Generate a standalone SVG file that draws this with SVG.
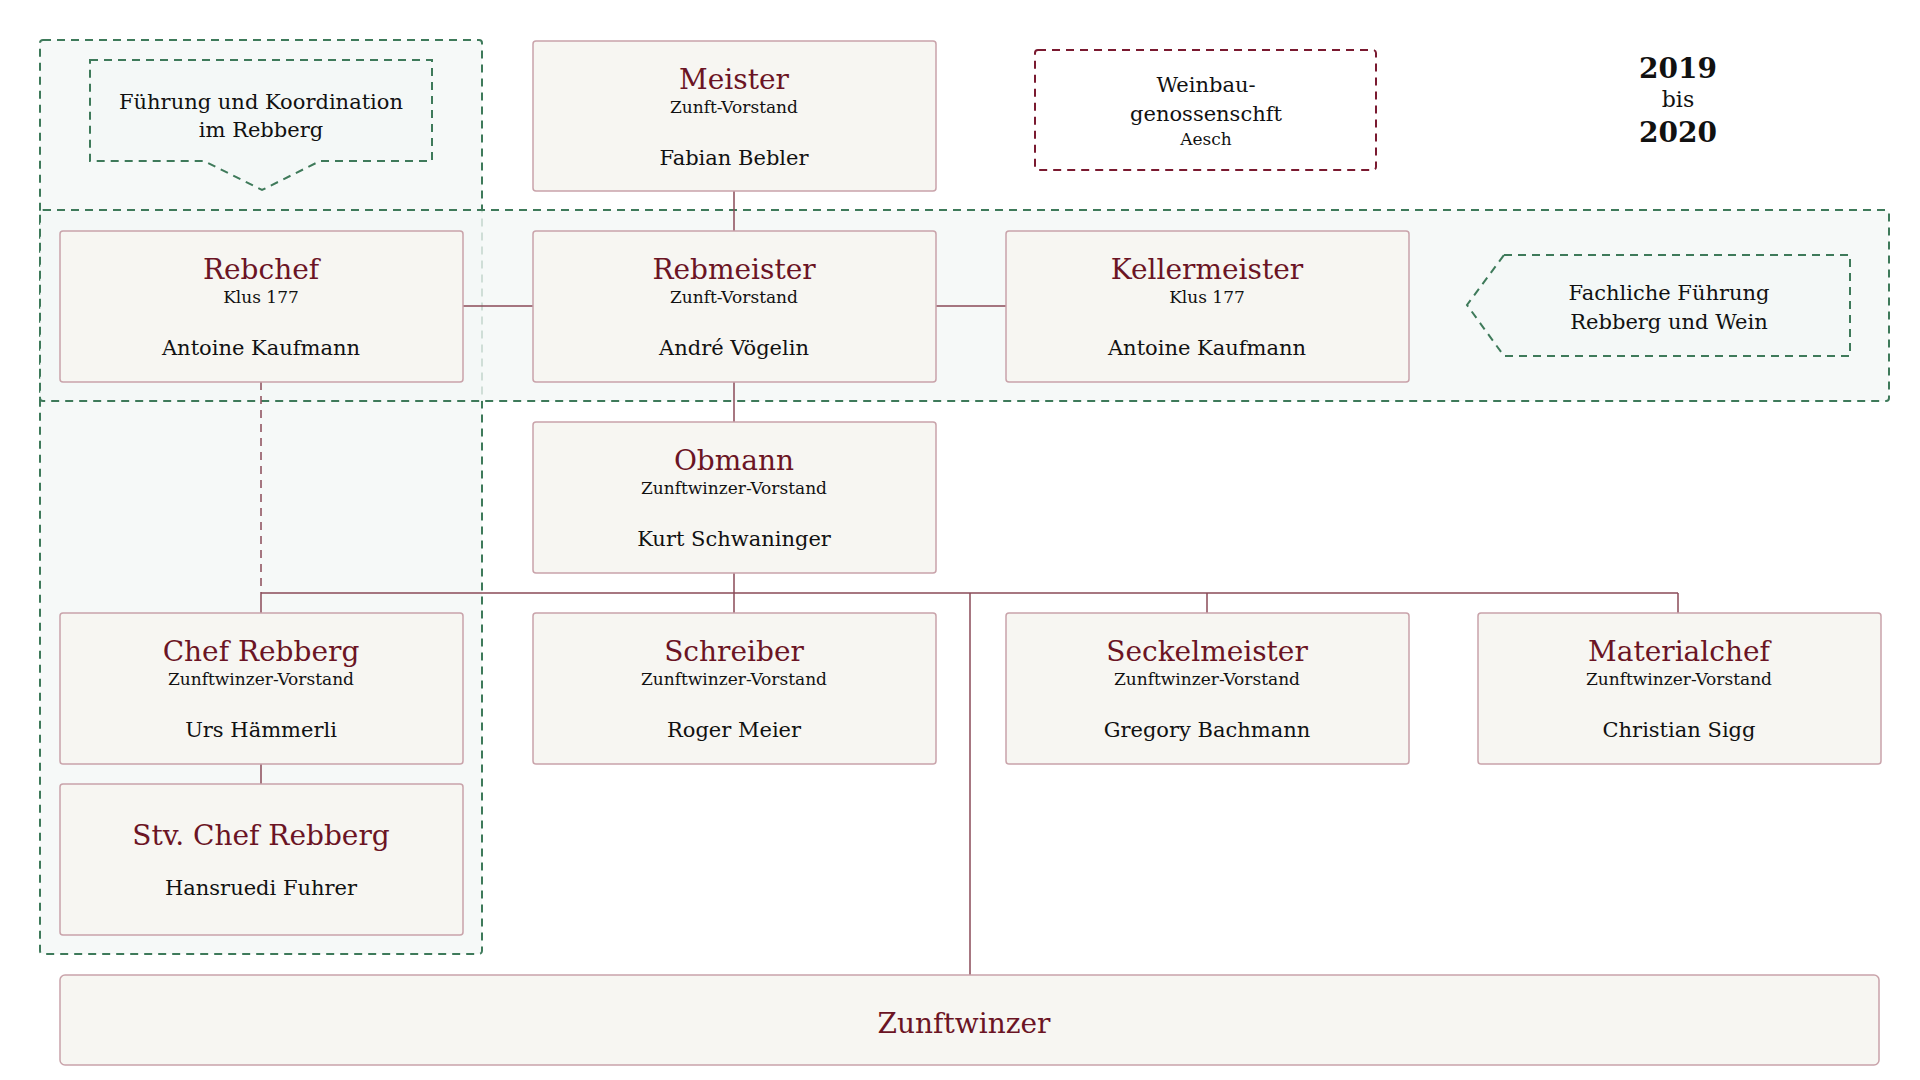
<svg xmlns="http://www.w3.org/2000/svg" width="1920" height="1080" viewBox="0 0 1920 1080">
<style>
text{font-family:"DejaVu Serif","Liberation Serif",serif;text-anchor:middle;fill:#111}
.n{fill:#f7f6f2;stroke:#c9a3aa;stroke-width:1.5}
.t{font-size:28px;fill:#6b1424}
.s{font-size:17px}
.m{font-size:21px}
.g{fill:#f4f7f6;fill-opacity:0.8;stroke:#3e7a5a;stroke-width:2;stroke-dasharray:8 6}
.c{stroke:#8a4b58;stroke-width:1.5;fill:none}
</style>
<rect width="1920" height="1080" fill="#fff"/>
<g id="zones">
<rect class="g" x="40" y="40" width="442" height="914" rx="3"/>
<rect class="g" x="40" y="210" width="1849" height="191" rx="3"/>
<path class="g" d="M90,60 H432 V161 H320 L262,190 L204,161 H90 Z"/>
<path class="g" d="M1504,255 H1850 V356 H1504 L1467,305 Z"/>
</g>
<g id="connectors">
<path class="c" d="M734,191 V231 M463,306 H533 M935,306 H1006 M734,382 V422 M734,573 V593 M261,593 H1678 M261,593 V613 M734,593 V613 M1207,593 V613 M1678,593 V613 M970,593 V975 M261,764 V784"/>
<path class="c" d="M261,382 V593" stroke-dasharray="8 6"/>
</g>
<g id="meister"><rect class="n" x="533" y="41" width="403" height="150" rx="3"/><text class="t" x="734" y="89">Meister</text><text class="s" x="734" y="113">Zunft-Vorstand</text><text class="m" x="734" y="165">Fabian Bebler</text></g>
<g id="weinbau"><rect x="1035" y="50" width="341" height="120" rx="3" fill="#fff" stroke="#7a1a30" stroke-width="2" stroke-dasharray="8 6"/><text class="m" x="1206" y="92">Weinbau-</text><text class="m" x="1206" y="121">genossenschft</text><text class="s" x="1206" y="145">Aesch</text></g>
<g id="years"><text x="1678" y="78" font-size="28" font-weight="bold">2019</text><text x="1678" y="107" font-size="22">bis</text><text x="1678" y="142" font-size="28" font-weight="bold">2020</text></g>
<g id="labels"><text class="m" x="261" y="109">Führung und Koordination</text><text class="m" x="261" y="137">im Rebberg</text><text class="m" x="1669" y="300">Fachliche Führung</text><text class="m" x="1669" y="329">Rebberg und Wein</text></g>
<g id="rebchef"><rect class="n" x="60" y="231" width="403" height="151" rx="3"/><text class="t" x="261" y="279">Rebchef</text><text class="s" x="261" y="303">Klus 177</text><text class="m" x="261" y="355">Antoine Kaufmann</text></g>
<g id="rebmeister"><rect class="n" x="533" y="231" width="403" height="151" rx="3"/><text class="t" x="734" y="279">Rebmeister</text><text class="s" x="734" y="303">Zunft-Vorstand</text><text class="m" x="734" y="355">André Vögelin</text></g>
<g id="kellermeister"><rect class="n" x="1006" y="231" width="403" height="151" rx="3"/><text class="t" x="1207" y="279">Kellermeister</text><text class="s" x="1207" y="303">Klus 177</text><text class="m" x="1207" y="355">Antoine Kaufmann</text></g>
<g id="obmann"><rect class="n" x="533" y="422" width="403" height="151" rx="3"/><text class="t" x="734" y="470">Obmann</text><text class="s" x="734" y="494">Zunftwinzer-Vorstand</text><text class="m" x="734" y="546">Kurt Schwaninger</text></g>
<g id="chefrebberg"><rect class="n" x="60" y="613" width="403" height="151" rx="3"/><text class="t" x="261" y="661">Chef Rebberg</text><text class="s" x="261" y="685">Zunftwinzer-Vorstand</text><text class="m" x="261" y="737">Urs Hämmerli</text></g>
<g id="schreiber"><rect class="n" x="533" y="613" width="403" height="151" rx="3"/><text class="t" x="734" y="661">Schreiber</text><text class="s" x="734" y="685">Zunftwinzer-Vorstand</text><text class="m" x="734" y="737">Roger Meier</text></g>
<g id="seckelmeister"><rect class="n" x="1006" y="613" width="403" height="151" rx="3"/><text class="t" x="1207" y="661">Seckelmeister</text><text class="s" x="1207" y="685">Zunftwinzer-Vorstand</text><text class="m" x="1207" y="737">Gregory Bachmann</text></g>
<g id="materialchef"><rect class="n" x="1478" y="613" width="403" height="151" rx="3"/><text class="t" x="1679" y="661">Materialchef</text><text class="s" x="1679" y="685">Zunftwinzer-Vorstand</text><text class="m" x="1679" y="737">Christian Sigg</text></g>
<g id="stv"><rect class="n" x="60" y="784" width="403" height="151" rx="3"/><text class="t" x="261" y="845">Stv. Chef Rebberg</text><text class="m" x="261" y="895">Hansruedi Fuhrer</text></g>
<g id="zunftwinzer"><rect class="n" x="60" y="975" width="1819" height="90" rx="5" stroke="#7a2a3c"/><text class="t" x="964" y="1033" font-size="36">Zunftwinzer</text></g>
</svg>
